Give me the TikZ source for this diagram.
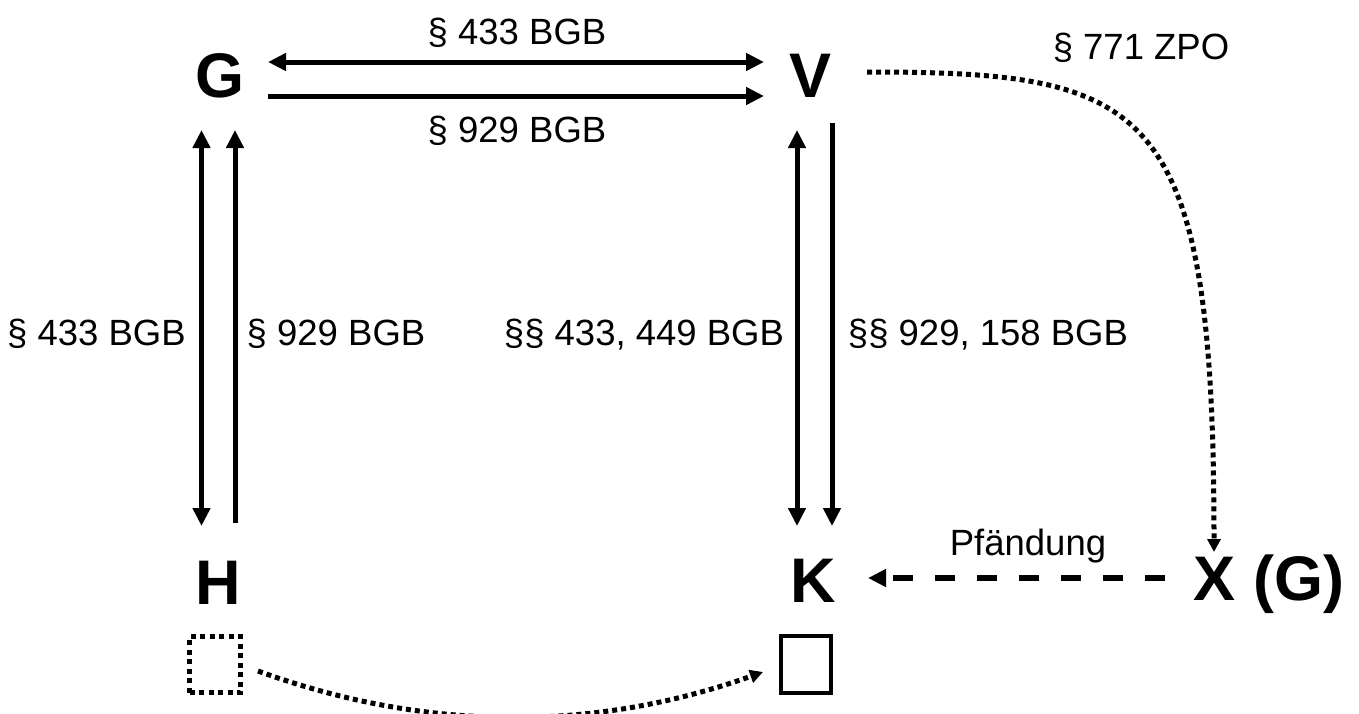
\documentclass[tikz,border=0pt]{standalone}
\usepackage{fontspec}
\setmainfont{Liberation Sans}
\usetikzlibrary{arrows.meta}
\begin{document}
\begin{tikzpicture}[x=1pt,y=-1pt,
  big/.style={font=\fontsize{63}{63}\selectfont\bfseries, inner sep=0pt, anchor=base},
  lab/.style={font=\fontsize{36.5}{36.5}\selectfont, inner sep=0pt, anchor=base},
  solidarrow/.style={line width=5pt, -{Triangle[length=18pt,width=17pt]}},
  botharrow/.style={line width=5pt, {Triangle[length=18pt,width=17pt]}-{Triangle[length=18pt,width=17pt]}},
  dashedarrow/.style={line width=5.5pt, dash pattern=on 20pt off 22pt, -{Triangle[length=18pt,width=17pt]}},
  dotarrow/.style={line width=5pt, dash pattern=on 5pt off 4pt, -{Triangle[length=13pt,width=13pt]}},
  solidbox/.style={draw, line width=4pt, minimum width=50pt, minimum height=57pt, inner sep=0pt},
  dotbox/.style={draw, line width=5pt, dash pattern=on 5pt off 4.5pt, minimum width=51pt, minimum height=56pt, inner sep=0pt}
]
\useasboundingbox (0,0) rectangle (1359,713);
\clip (0,0) rectangle (1359,713);

% main letters
\node[big] (G) at (219.5,97) {G};
\node[big] (V) at (810,97) {V};
\node[big] (H) at (218.5,604) {H};
\node[big] (K) at (813,602) {K};
\node[big] (X) at (1269,600) {X (G)};

% boxes
\node[dotbox] (hbox) at (215,664.5) {};
\node[solidbox] (kbox) at (806,664.5) {};

% labels
\node[lab] (l1) at (517,44) {§ 433 BGB};
\node[lab] (l2) at (517,142) {§ 929 BGB};
\node[lab] (l3) at (1141,59) {§ 771 ZPO};
\node[lab] (l4) at (96.5,345) {§ 433 BGB};
\node[lab] (l5) at (336,345) {§ 929 BGB};
\node[lab] (l6) at (644,345) {§§ 433, 449 BGB};
\node[lab] (l7) at (988,345) {§§ 929, 158 BGB};
\node[lab] (l8) at (1028,555) {Pfändung};

% connector end points
\coordinate (gv1a) at (268,62);  \coordinate (gv1b) at (764,62);
\coordinate (gv2a) at (268,96);  \coordinate (gv2b) at (764,96);
\coordinate (gh1a) at (201.5,130); \coordinate (gh1b) at (201.5,526);
\coordinate (gh2a) at (235,130);   \coordinate (gh2b) at (235,523);
\coordinate (vk1a) at (797,130);   \coordinate (vk1b) at (797,526);
\coordinate (vk2a) at (832,123);   \coordinate (vk2b) at (832,526);
\coordinate (xk1) at (1165,578);   \coordinate (xk2) at (868,578);
\coordinate (vx1) at (867,72);     \coordinate (vx2) at (1214,552);
\coordinate (hk1) at (258,671);    \coordinate (hk2) at (763,672);

% connectors
\draw[botharrow] (gv1a) -- (gv1b);
\draw[solidarrow] (gv2a) -- (gv2b);
\draw[botharrow] (gh1a) -- (gh1b);
\draw[solidarrow] (gh2b) -- (gh2a);
\draw[botharrow] (vk1a) -- (vk1b);
\draw[solidarrow] (vk2a) -- (vk2b);
\draw[dashedarrow] (xk1) -- (xk2);
\draw[dotarrow] (vx1) .. controls (1150,72) and (1214,100) .. (vx2);
\draw[dotarrow] (hk1) .. controls (426,732) and (594,732) .. (hk2);
\end{tikzpicture}
\end{document}
